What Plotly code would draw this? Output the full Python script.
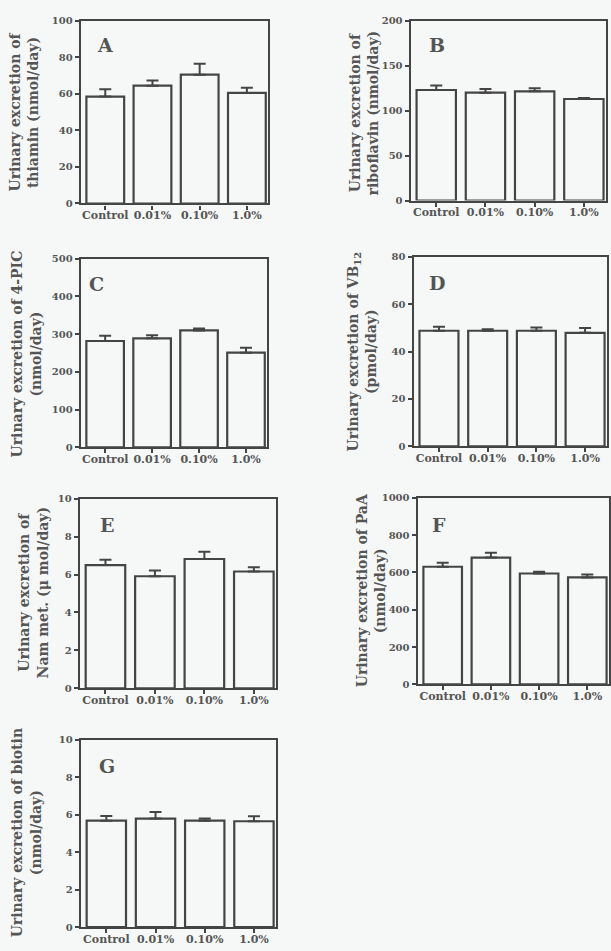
import plotly.graph_objects as go

W, H = 611, 951

categories = ["Control", "0.01%", "0.10%", "1.0%"]

thiamin = [58.5, 64.5, 70.5, 60.5]
thiamin_err = [4.0, 2.8, 6.0, 2.8]
riboflavin = [123, 120, 121.5, 113]
riboflavin_err = [5.0, 4.0, 3.5, 1.2]
pic4 = [282, 289, 310, 251]
pic4_err = [14, 8, 5, 13]
vb12 = [48.8, 48.8, 48.8, 47.9]
vb12_err = [1.7, 0.6, 1.4, 2.1]
nammet = [6.5, 5.91, 6.82, 6.16]
nammet_err = [0.28, 0.30, 0.38, 0.22]
paa = [630, 679, 594, 573]
paa_err = [22, 26, 9, 16]
biotin = [5.68, 5.79, 5.68, 5.65]
biotin_err = [0.25, 0.35, 0.11, 0.26]

panels = [
    dict(letter="A", vals=thiamin, err=thiamin_err, ymax=100, dtick=20,
         title="Urinary excretion of<br>thiamin (nmol/day)",
         box=(81, 269, 15, 200), tpos=(24, 107), lpos=(105, 39)),
    dict(letter="B", vals=riboflavin, err=riboflavin_err, ymax=200, dtick=50,
         title="Urinary excretion of<br>riboflavin (nmol/day)",
         box=(412, 608, 15, 197), tpos=(365, 108), lpos=(438, 39)),
    dict(letter="C", vals=pic4, err=pic4_err, ymax=500, dtick=100,
         title="Urinary excretion of 4-PIC<br>(nmol/day)",
         box=(81, 268, 256, 447), tpos=(26, 352), lpos=(97, 282)),
    dict(letter="D", vals=vb12, err=vb12_err, ymax=80, dtick=20,
         title="Urinary excretion of VB<sub>12</sub><br>(pmol/day)",
         box=(415, 609, 254, 446), tpos=(363, 350), lpos=(438, 281)),
    dict(letter="E", vals=nammet, err=nammet_err, ymax=10, dtick=2,
         title="Urinary excretion of<br>Nam met. (μ mol/day)",
         box=(80, 277, 499, 691), tpos=(33, 594), lpos=(107, 526)),
    dict(letter="F", vals=paa, err=paa_err, ymax=1000, dtick=200,
         title="Urinary excretion of PaA<br>(nmol/day)",
         box=(419, 611, 498, 687), tpos=(372, 592), lpos=(440, 526)),
    dict(letter="G", vals=biotin, err=biotin_err, ymax=10, dtick=2,
         title="Urinary excretion of biotin<br>(nmol/day)",
         box=(81, 277, 743, 933), tpos=(27, 837), lpos=(107, 770)),
]

LINE = "#444444"
TEXT = "#555555"
BG = "#f6f8f7"
FONT = "DejaVu Serif"

fig = go.Figure()
annotations = []
layout = {}

for i, p in enumerate(panels):
    n = "" if i == 0 else str(i + 1)
    L, R, T, B = p["box"]
    fig.add_trace(go.Bar(
        x=categories, y=p["vals"],
        xaxis="x" + n, yaxis="y" + n,
        marker=dict(color=BG, line=dict(color=LINE, width=2.2)),
        error_y=dict(type="data", array=p["err"], arrayminus=[0] * 4,
                     symmetric=False, color=LINE, thickness=2, width=6),
        showlegend=False, hoverinfo="skip",
    ))
    layout["xaxis" + n] = dict(
        domain=[L / W, min(R / W, 1.0)], anchor="y" + n,
        range=[-0.52, 3.45], showline=True, mirror=True, linecolor=LINE,
        linewidth=2.2, ticks="outside", ticklen=4, tickwidth=1.5, tickcolor=LINE,
        showgrid=False, zeroline=False, ticklabelstandoff=-4,
        tickfont=dict(family=FONT, size=11, color=TEXT, weight="bold"),
    )
    layout["yaxis" + n] = dict(
        domain=[1 - B / H, 1 - T / H], anchor="x" + n,
        range=[0, p["ymax"]], dtick=p["dtick"], tick0=0,
        showline=True, mirror=True, linecolor=LINE, linewidth=2.2,
        ticks="outside", ticklen=4, tickwidth=1.5, tickcolor=LINE,
        showgrid=False, zeroline=False,
        tickfont=dict(family=FONT, size=10, color=TEXT, weight="bold"),
    )
    annotations.append(dict(
        text=p["title"], xref="paper", yref="paper",
        x=p["tpos"][0] / W, y=1 - p["tpos"][1] / H,
        xanchor="center", yanchor="middle", textangle=-90, showarrow=False,
        font=dict(family=FONT, size=14, color=TEXT, weight="bold"),
    ))
    annotations.append(dict(
        text=p["letter"], xref="paper", yref="paper",
        x=p["lpos"][0] / W, y=1 - p["lpos"][1] / H,
        xanchor="center", yanchor="middle", showarrow=False,
        font=dict(family=FONT, size=19, color=TEXT, weight="bold"),
    ))

fig.update_layout(
    width=W, height=H, margin=dict(l=0, r=0, t=0, b=0),
    paper_bgcolor=BG, plot_bgcolor=BG,
    bargap=0.2, annotations=annotations, **layout,
)

fig.write_html(
    "out.html",
    config={"displayModeBar": False},
    post_script="document.body.style.margin='0px';document.body.style.background='%s';" % BG,
)
